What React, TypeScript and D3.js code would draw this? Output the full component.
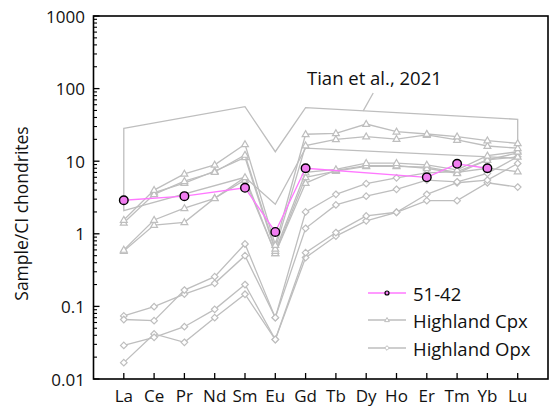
import React from "react";
import * as d3 from "d3";

// REE order on the x axis
const elements = ["La", "Ce", "Pr", "Nd", "Sm", "Eu", "Gd", "Tb", "Dy", "Ho", "Er", "Tm", "Yb", "Lu"];

// sample 51-42 (only some elements measured)
const sample5142 = [2.9, null, 3.3, null, 4.3, 1.06, 8.0, null, null, null, 6.0, 9.2, 8.0, null];

// Highland Cpx
const cpx1 = [1.55, 4.0, 6.7, 8.9, 17.1, 0.7, 23.5, 24.2, 32.5, 25.5, 23.7, 21.8, 19.2, 17.6];
const cpx2 = [1.42, 3.5, 5.3, 7.1, 12.2, 0.62, 16.4, 20.0, 21.8, 20.2, 23.0, 19.6, 16.2, 15.1];
const cpx3 = [null, 3.7, 5.0, 7.3, 11.3, 0.58, 7.0, 7.7, 9.4, 9.4, 8.9, 7.6, 11.9, 13.5];
const cpx4 = [0.6, 1.55, 2.25, 3.08, 6.0, 0.54, 5.0, 7.5, 8.7, 8.7, 8.0, 6.8, 10.4, 11.5];
const cpx5 = [0.58, 1.32, 1.44, 3.1, 5.5, 0.54, 6.0, 7.3, 8.5, 8.5, 8.3, 7.0, 8.0, 7.2];

// Highland Opx
const opx1 = [0.066, 0.0636, 0.168, 0.257, 0.724, 0.07, 2.0, 3.5, 4.9, 5.9, 6.9, 7.2, 10.4, 13.0];
const opx2 = [0.074, 0.099, 0.148, 0.208, 0.5, 0.07, 1.19, 2.5, 3.3, 4.1, 5.5, 5.2, 6.8, 11.5];
const opx3 = [0.029, 0.0375, 0.0525, 0.091, 0.2, 0.035, 0.55, 1.04, 1.76, 1.98, 3.5, 5.05, 5.5, 9.3];
const opx4 = [0.0168, 0.0417, 0.032, 0.07, 0.147, 0.035, 0.47, 0.93, 1.51, 1.98, 2.86, 2.86, 5.05, 4.4];

// Tian et al., 2021 envelope
const tianElements = ["La", "Sm", "Eu", "Gd", "Lu"];
const tianUpper = [28.4, 56.3, 13.5, 54.6, 37.8];
const tianLower = [2.08, 6.0, 2.55, 15.1, 11.0];

const yTicks = [0.01, 0.1, 1, 10, 100, 1000];
const yTickLabels = ["0.01", "0.1", "1", "10", "100", "1000"];

const legendItems = ["51-42", "Highland Cpx", "Highland Opx"];

const W = 549;
const H = 408;
const left = 93.5;
const right = 548;
const top = 16;
const bottom = 379;
const gray = "#bebebe";
const pink = "#ff78ff";
const font = "'Open Sans', sans-serif";

const x = d3.scalePoint<string>().domain(elements).range([left, right]).padding(1);
const y = d3.scaleLog().domain([0.01, 1000]).range([bottom, top]);

// points of a series that have a value; the line joins them across gaps
const pts = (data: (number | null)[]) =>
  data
    .map((d, i) => ({ el: elements[i], v: d }))
    .filter((p) => p.v != null) as { el: string; v: number }[];

const line = d3
  .line<{ el: string; v: number }>()
  .x((p) => x(p.el) as number)
  .y((p) => y(p.v));

const triPath = (cx: number, cy: number, s: number) =>
  `M${cx},${cy - s}L${cx + s * 0.95},${cy + s * 0.65}L${cx - s * 0.95},${cy + s * 0.65}Z`;
const diaPath = (cx: number, cy: number, s: number) =>
  `M${cx},${cy - s}L${cx + s},${cy}L${cx},${cy + s}L${cx - s},${cy}Z`;

function Series({ data, shape }: { data: (number | null)[]; shape: "tri" | "dia" }) {
  const p = pts(data);
  return (
    <g>
      <path d={line(p) || ""} fill="none" stroke={gray} strokeWidth={1.3} />
      {p.map((d) => (
        <path
          key={d.el}
          d={shape === "tri" ? triPath(x(d.el) as number, y(d.v), 3.6) : diaPath(x(d.el) as number, y(d.v), 3.3)}
          fill="#fff"
          stroke={gray}
          strokeWidth={1.2}
        />
      ))}
    </g>
  );
}

export default function App() {
  // minor ticks on the log axis
  const minor: number[] = [];
  for (let e = -2; e < 3; e++) {
    for (let m = 2; m < 10; m++) minor.push(m * Math.pow(10, e));
  }

  // envelope polygon
  const envPts: [number, number][] = [
    ...tianElements.map((el, i) => [x(el) as number, y(tianUpper[i])] as [number, number]),
    ...tianElements
      .map((el, i) => [x(el) as number, y(tianLower[i])] as [number, number])
      .reverse(),
  ];
  const envPath = "M" + envPts.map((p) => p.join(",")).join("L") + "Z";

  // leader line from the label to the envelope's upper edge
  const gdX = x("Gd") as number;
  const luX = x("Lu") as number;
  const leadX = (x("Dy") as number) - 3;
  const t = (leadX - gdX) / (luX - gdX);
  const leadY = y(tianUpper[3]) + t * (y(tianUpper[4]) - y(tianUpper[3]));

  const cpx = [cpx5, cpx4, cpx3, cpx2, cpx1];
  const opx = [opx4, opx3, opx2, opx1];
  const sample = pts(sample5142);

  const legX = 368;
  const legY = [293, 320, 348];

  return (
    <div style={{ position: "fixed", left: 0, top: 0 }}>
      <svg width={W} height={H} style={{ display: "block", background: "#fff" }}>
        {/* envelope */}
        <path d={envPath} fill="none" stroke={gray} strokeWidth={1.3} />
        <line x1={leadX + 10} y1={93} x2={leadX} y2={leadY} stroke={gray} strokeWidth={1.3} />
        <text x={307} y={85} fontFamily={font} fontSize={18.5} fill="#111">
          Tian et al., 2021
        </text>

        {opx.map((s, i) => (
          <Series key={"o" + i} data={s} shape="dia" />
        ))}
        {cpx.map((s, i) => (
          <Series key={"c" + i} data={s} shape="tri" />
        ))}

        {/* sample */}
        <path d={line(sample) || ""} fill="none" stroke={pink} strokeWidth={1.3} />
        {sample.map((d) => (
          <circle key={d.el} cx={x(d.el) as number} cy={y(d.v)} r={4.3} fill="#f07df0" stroke="#000" strokeWidth={1.4} />
        ))}

        {/* frame */}
        <rect x={left} y={top} width={right - left} height={bottom - top} fill="none" stroke="#000" strokeWidth={1.6} />

        {/* y ticks */}
        {yTicks.map((v, i) => (
          <g key={v}>
            <line x1={left} x2={left + 6} y1={y(v)} y2={y(v)} stroke="#000" strokeWidth={1.3} />
            <text x={85} y={y(v)} textAnchor="end" dominantBaseline="central" fontFamily={font} fontSize={17} fill="#111">
              {yTickLabels[i]}
            </text>
          </g>
        ))}
        {minor.map((v) => (
          <line key={v} x1={left} x2={left + 3.5} y1={y(v)} y2={y(v)} stroke="#000" strokeWidth={1.1} />
        ))}

        {/* x ticks */}
        {elements.map((el) => (
          <g key={el}>
            <line x1={x(el) as number} x2={x(el) as number} y1={bottom} y2={bottom - 6} stroke="#000" strokeWidth={1.3} />
            <text x={x(el) as number} y={402} textAnchor="middle" fontFamily={font} fontSize={17} fill="#111">
              {el}
            </text>
          </g>
        ))}

        <text
          transform={`translate(28,${(top + bottom) / 2 + 16}) rotate(-90)`}
          textAnchor="middle"
          fontFamily={font}
          fontSize={17.5}
          fill="#111"
        >
          Sample/CI chondrites
        </text>

        {/* legend */}
        {legendItems.map((lab, i) => (
          <g key={lab}>
            <line x1={legX} x2={legX + 38} y1={legY[i]} y2={legY[i]} stroke={i === 0 ? pink : gray} strokeWidth={1.3} />
            {i === 0 && <circle cx={legX + 19} cy={legY[i]} r={2} fill="#f07df0" stroke="#000" strokeWidth={1.2} />}
            {i === 1 && <path d={triPath(legX + 19, legY[i], 2.5)} fill="#fff" stroke={gray} strokeWidth={1} />}
            {i === 2 && <path d={diaPath(legX + 19, legY[i], 2.3)} fill="#fff" stroke={gray} strokeWidth={1} />}
            <text x={legX + 45} y={legY[i]} dominantBaseline="central" fontFamily={font} fontSize={18.5} fill="#111">
              {lab}
            </text>
          </g>
        ))}
      </svg>
    </div>
  );
}
